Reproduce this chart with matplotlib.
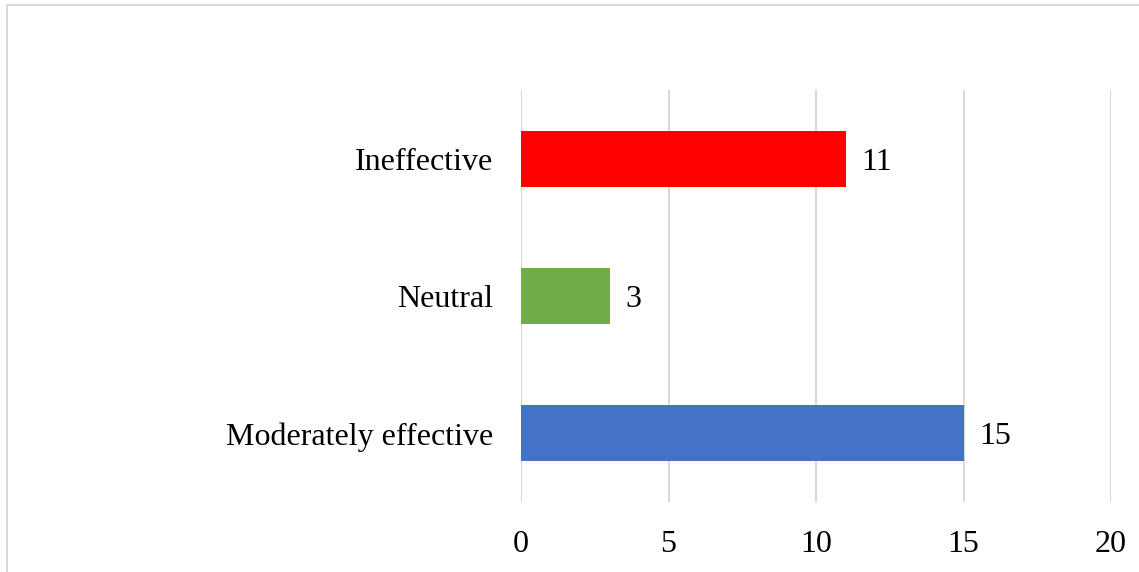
import matplotlib.pyplot as plt
from matplotlib.patches import Rectangle

# Survey responses, bottom to top
categories = ["Moderately effective", "Neutral", "Ineffective"]
counts = [15, 3, 11]
bar_colors = ["#4472C4", "#70AD47", "#FF0000"]
x_ticks = [0, 5, 10, 15, 20]

plt.rcParams['font.family'] = ['Liberation Serif', 'DejaVu Serif']

W, H = 1139, 572
fig = plt.figure(figsize=(W / 100, H / 100), dpi=100)
ax = fig.add_axes([521 / W, (H - 502) / H, (1111 - 521) / W, (502 - 90) / H])

# light chart-area frame
fig.patches.append(Rectangle((6.5 / W, -0.1), 1.2, 1.1 - 4.5 / H, transform=fig.transFigure,
                             fill=False, edgecolor="#D9D9D9", linewidth=1.5))

y = range(len(categories))
ax.barh(y, counts, height=0.41, color=bar_colors, zorder=3)

for yi, c in zip(y, counts):
    ax.annotate(str(c), (c, yi), xytext=(16, 0), textcoords="offset pixels",
                va="center_baseline", ha="left", fontsize=23)

ax.set_xlim(0, 20)
ax.set_ylim(-0.5, len(categories) - 0.5)
ax.set_xticks(x_ticks)
ax.set_yticks(list(y))
ax.set_yticklabels(categories)
ax.tick_params(axis="both", length=0, labelsize=23)
ax.tick_params(axis="x", pad=20)
ax.tick_params(axis="y", pad=20)
ax.xaxis.grid(True, color="#D9D9D9", linewidth=1.5, zorder=0)
for s in ax.spines.values():
    s.set_visible(False)

fig.savefig("out.png", dpi=100, facecolor="white")
